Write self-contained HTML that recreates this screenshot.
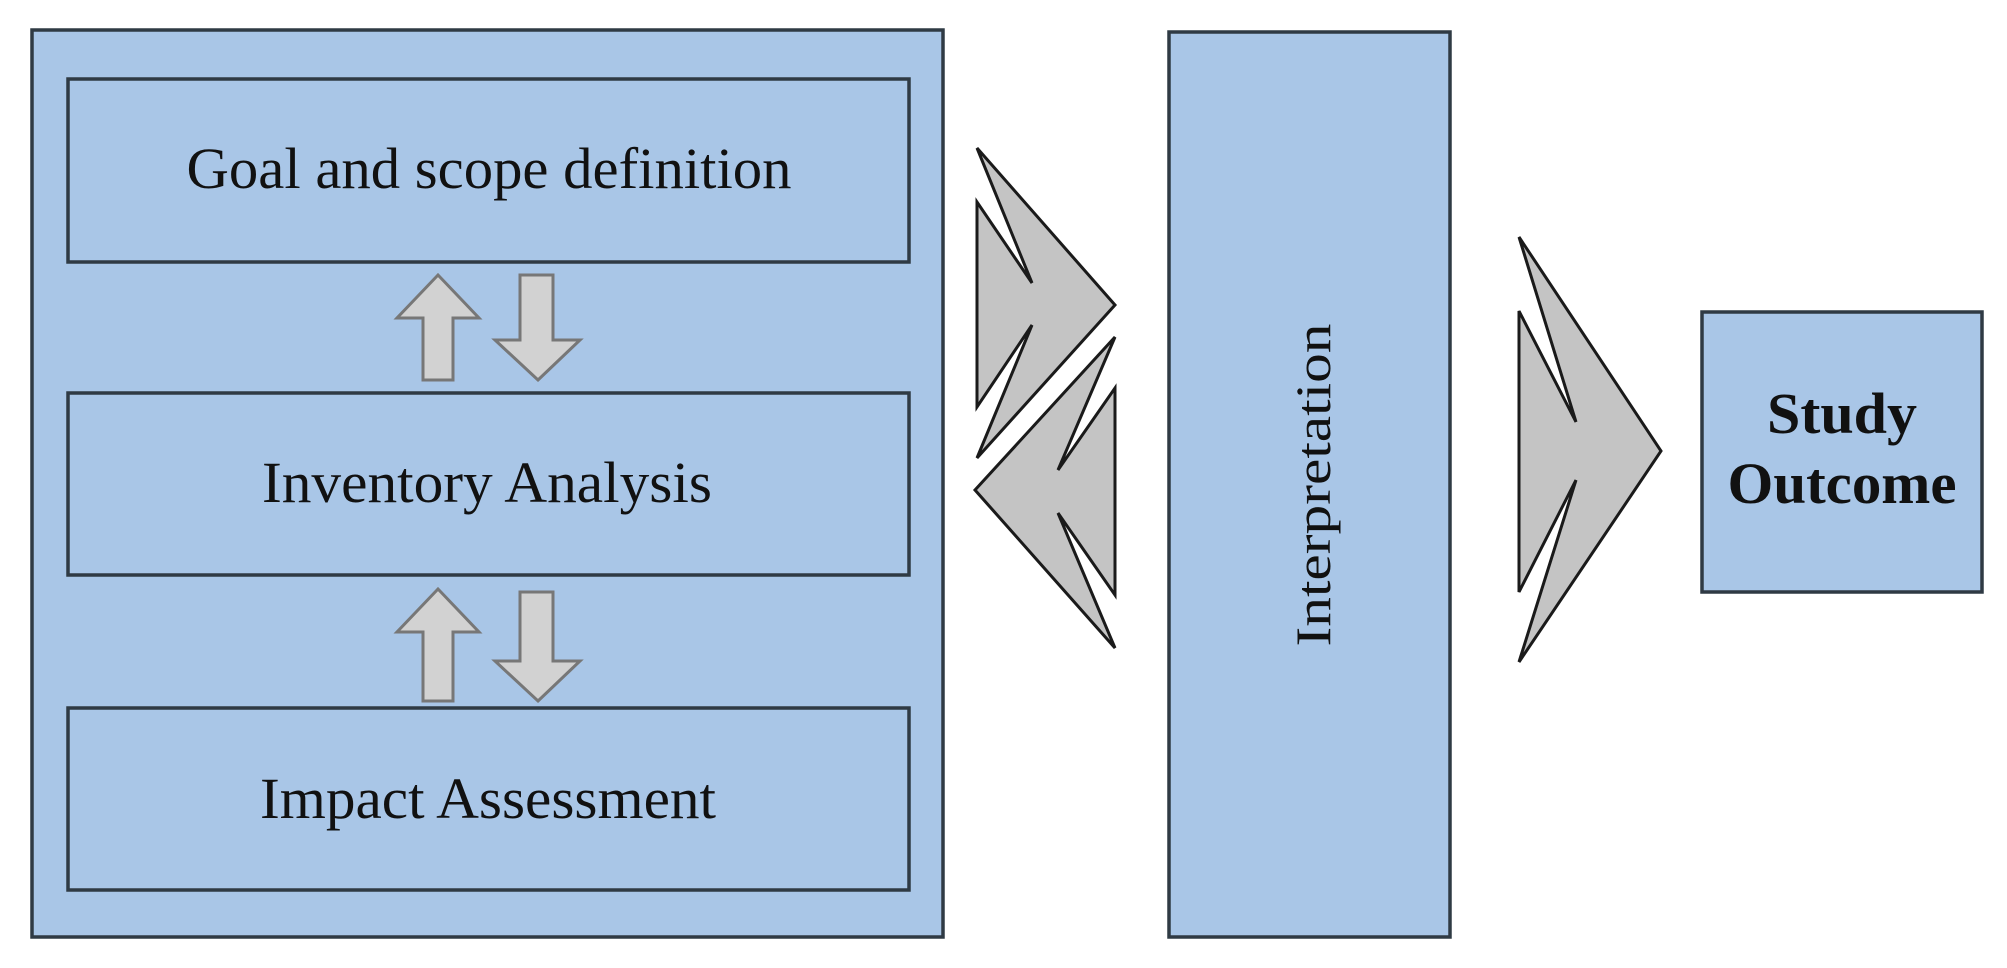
<!DOCTYPE html>
<html><head><style>html,body{margin:0;padding:0;background:#fff;}svg{display:block}</style></head>
<body>
<svg width="2007" height="968" viewBox="0 0 2007 968" xmlns="http://www.w3.org/2000/svg">
<g fill="#a9c6e7" stroke="#2f3a44" stroke-width="3.5">
<rect x="32" y="30" width="911" height="907"/>
<rect x="68" y="79" width="841" height="183"/>
<rect x="68" y="393" width="841" height="182"/>
<rect x="68" y="708" width="841" height="182"/>
<rect x="1169" y="32" width="281" height="905"/>
<rect x="1702" y="312" width="280" height="280"/>
</g>
<g fill="#d2d2d2" stroke="#777" stroke-width="3">
<polygon points="438,275 479,318 453,318 453,380 423,380 423,318 397,318"/>
<polygon points="538,380 580,340 553,340 553,275 520,275 520,340 495,340"/>
<polygon points="438,589 479,632 453,632 453,701 423,701 423,632 397,632"/>
<polygon points="538,701 580,661 553,661 553,592 520,592 520,661 495,661"/>
</g>
<g fill="#c4c4c4" stroke="#1a1a1a" stroke-width="3" stroke-linejoin="miter">
<polygon points="977,148 1115,305 977,458 1032,325 977,407 977,202 1032,283"/>
<polygon points="1115,337 975,490 1115,648 1058,513 1115,595 1115,388 1058,470"/>
<polygon points="1519,237 1661,451 1519,662 1576,480 1519,592 1519,311 1576,422"/>
</g>
<g font-family="Liberation Serif, serif" fill="#111" text-anchor="middle">
<text x="489" y="188" font-size="58" textLength="605" lengthAdjust="spacingAndGlyphs">Goal and scope definition</text>
<text x="487" y="502" font-size="58" textLength="450" lengthAdjust="spacingAndGlyphs">Inventory Analysis</text>
<text x="488" y="818" font-size="58" textLength="456" lengthAdjust="spacingAndGlyphs">Impact Assessment</text>
<text transform="translate(1330,485) rotate(-90)" font-size="50" textLength="323" lengthAdjust="spacingAndGlyphs">Interpretation</text>
<text x="1842" y="433" font-size="58" font-weight="bold" textLength="150" lengthAdjust="spacingAndGlyphs">Study</text>
<text x="1842" y="503" font-size="58" font-weight="bold" textLength="229" lengthAdjust="spacingAndGlyphs">Outcome</text>
</g>
</svg>
</body></html>
